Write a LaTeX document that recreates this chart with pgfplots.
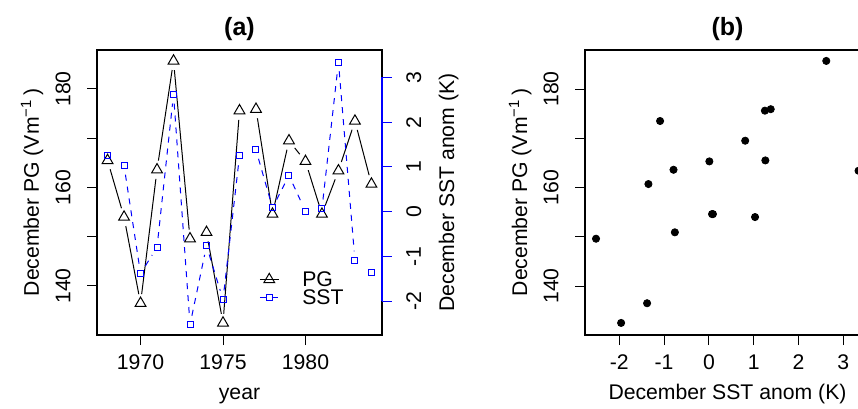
\documentclass[border=0pt]{standalone}
\usepackage{fontspec}
\setmainfont{Liberation Sans}
\usepackage{pgfplots}
\pgfplotsset{compat=1.18}
\usepackage{pgfplotstable}

% December values per year
\pgfplotstableread{
year pg    sst
1968 165.5  1.26
1969 154.0  1.03
1970 136.5 -1.38
1971 163.6 -0.79
1972 185.7  2.62
1973 149.6 -2.52
1974 150.9 -0.76
1975 132.5 -1.96
1976 175.6  1.25
1977 175.9  1.38
1978 154.6  0.09
1979 169.5  0.81
1980 165.3  0.01
1981 154.6  0.07
1982 163.4  3.34
1983 173.5 -1.09
1984 160.7 -1.35
}\dectab

% line pieces between points (type "b"), too short ones left out
\pgfplotstableread{
x    y     u  v
1968 165.5 1 -11.5
1969 154.0 1 -17.5
1970 136.5 1  27.1
1971 163.6 1  22.1
1972 185.7 1 -36.1
1974 150.9 1 -18.4
1975 132.5 1  43.1
1977 175.9 1 -21.3
1978 154.6 1  14.9
1979 169.5 1  -4.2
1980 165.3 1 -10.7
1981 154.6 1   8.8
1982 163.4 1  10.1
1983 173.5 1 -12.8
}\pgseg

\pgfplotstableread{
x    y     u  v
1969  1.03 1 -2.41
1970 -1.38 1  0.59
1971 -0.79 1  3.41
1972  2.62 1 -5.14
1973 -2.52 1  1.76
1974 -0.76 1 -1.20
1975 -1.96 1  3.21
1977  1.38 1 -1.29
1978  0.09 1  0.72
1979  0.81 1 -0.80
1981  0.07 1  3.27
1982  3.34 1 -4.43
}\sstseg

\pgfplotsset{
  rpanel/.style={
    scale only axis, width=142.5pt, height=142.5pt, anchor=south west,
    axis line style={line width=0.8pt},
    tick align=outside, major tick length=5pt,
    tick style={line width=0.5pt, black},
    xtick pos=bottom,
    title style={font=\fontsize{12.5}{15}\selectfont\bfseries,
      at={(0.5,1)}, anchor=base, yshift=1.2pt},
    every axis x label/.style={at={([yshift=-32pt]axis description cs:0.5,0)}, anchor=base},
    every axis y label/.style={at={([xshift=-29pt]axis description cs:0,0.5)}, rotate=90, anchor=base},
    xticklabel style={anchor=base, yshift=-12pt, inner sep=0pt},
    yticklabel style={xshift=-8.3pt, rotate=90, anchor=base, inner sep=0pt},
  },
  sstaxis/.style={scale only axis, width=142.5pt, height=142.5pt, anchor=south west,
    at={(48.5pt,36.5pt)}, xmin=1967.36, xmax=1984.64, ymin=-2.75, ymax=3.61},
}

\begin{document}
\begin{tikzpicture}[font=\fontsize{10.6}{12.7}\selectfont]
\begin{axis}[rpanel, at={(48.5pt,36.5pt)},
  xmin=1967.36, xmax=1984.64, ymin=130.05, ymax=187.92,
  xtick={1970,1975,1980}, xticklabels={1970,1975,1980},
  ytick={140,150,160,170,180}, yticklabels={140,,160,,180},
  ytick pos=left,
  title={(a)}, xlabel={year}, ylabel={December PG (Vm\textsuperscript{−1}\,)},
  legend style={draw=none, fill=none, at={(0.568,0.228)}, anchor=north west,
    inner sep=0pt, nodes={inner sep=0.5pt, text height=7.6pt, text depth=0.5pt},
    /tikz/every odd column/.append style={column sep=11pt}},
  legend cell align=left,
  legend image code/.code={\draw[mark repeat=2,mark phase=2,#1]
    plot coordinates {(0pt,0pt) (4.75pt,0pt) (9.5pt,0pt)};},
]
\addplot[forget plot, black, line width=0.5pt, no markers,
  quiver={u=\thisrow{u}, v=\thisrow{v},
    every arrow/.append style={shorten <=4.6pt, shorten >=4.6pt}}]
  table[x=x, y=y] {\pgseg};
\addplot[forget plot, only marks, mark=triangle, mark size=3.1pt, black,
  mark options={line width=0.5pt}] table[x=year, y=pg] {\dectab};
\addlegendimage{black, line width=0.5pt, mark=triangle, mark size=3.1pt}
\addlegendentry{PG}
\addlegendimage{blue, line width=0.5pt, dash pattern=on 3pt off 3pt,
  mark=square, mark size=1.5pt, mark options={solid}}
\addlegendentry{SST}
\end{axis}

\begin{axis}[sstaxis, clip=false,
  axis x line=none, axis y line*=right, axis line style={draw=none},
  tick align=outside, major tick length=5pt,
  tick style={line width=0.5pt, blue},
  ytick={-2,-1,0,1,2,3}, yticklabels={-2,-1,0,1,2,3},
  yticklabel style={xshift=7pt, rotate=90, anchor=north, inner sep=0pt, black},
  ylabel={December SST anom (K)},
  every axis y label/.style={at={([xshift=36pt]axis description cs:1,0.5)}, rotate=90, anchor=base},
]
\addplot[blue, line width=0.5pt, no markers, dash pattern=on 3pt off 3pt,
  quiver={u=\thisrow{u}, v=\thisrow{v},
    every arrow/.append style={shorten <=4.6pt, shorten >=4.6pt}}]
  table[x=x, y=y] {\sstseg};
\draw[blue, line width=0.8pt] (axis cs:1984.64,-2) -- (axis cs:1984.64,3);
\end{axis}

\begin{axis}[sstaxis, hide axis]
\addplot[only marks, mark=square, mark size=1.5pt, draw=blue,
  mark options={line width=0.5pt, solid, draw=blue, fill=none}]
  table[x=year, y=sst] {\dectab};
\end{axis}

\begin{axis}[rpanel, at={(292.5pt,36.5pt)},
  xmin=-2.766, xmax=3.596, ymin=130.05, ymax=187.92,
  xtick={-2,-1,0,1,2,3}, xticklabels={-2,-1,0,1,2,3},
  ytick={140,150,160,170,180}, yticklabels={140,,160,,180},
  ytick pos=left,
  title={(b)}, xlabel={December SST anom (K)}, ylabel={December PG (Vm\textsuperscript{−1}\,)},
]
\addplot[only marks, mark=*, mark size=1.8pt, black] table[x=sst, y=pg] {\dectab};
\end{axis}

\pgfresetboundingbox
\path[use as bounding box] (0pt,0pt) rectangle (429pt,204pt);
\end{tikzpicture}
\end{document}
